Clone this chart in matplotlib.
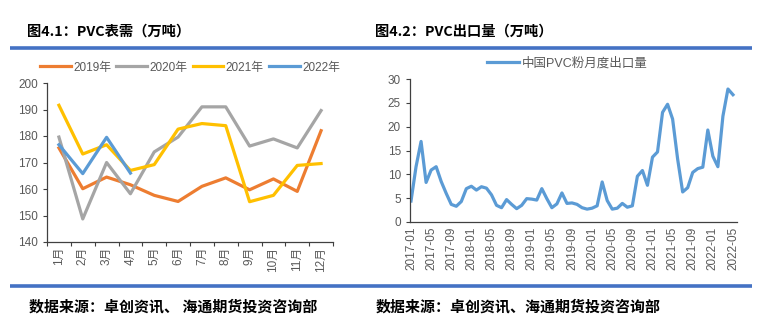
import matplotlib.pyplot as plt
from matplotlib.lines import Line2D

plt.rcParams['font.family'] = ['Liberation Sans', 'Noto Sans CJK SC']

months = ["1月", "2月", "3月", "4月", "5月", "6月", "7月", "8月", "9月", "10月", "11月", "12月"]
demand_2019 = [175.5, 160.1, 164.5, 161.6, 157.6, 155.3, 161.0, 164.2, 159.7, 163.8, 159.1, 182.0]
demand_2020 = [179.6, 148.7, 170.0, 158.2, 174.0, 179.6, 191.0, 191.0, 176.2, 178.9, 175.5, 189.6]
demand_2021 = [191.6, 173.2, 176.7, 167.0, 169.2, 182.6, 184.7, 183.9, 155.2, 157.6, 168.9, 169.6]
demand_2022 = [176.7, 165.8, 179.5, 166.0]

export_start_year = 2017
export = [4.4, 11.6, 16.9, 8.3, 10.9, 11.6, 8.5, 6.0, 3.7, 3.3, 4.3, 7.0,
          7.5, 6.7, 7.4, 7.1, 5.7, 3.5, 3.0, 4.7, 3.7, 2.8, 3.5, 4.9,
          4.8, 4.6, 7.0, 4.9, 3.0, 3.8, 6.1, 3.9, 4.0, 3.7, 3.0, 2.7,
          2.9, 3.4, 8.4, 4.5, 2.7, 2.9, 3.9, 3.1, 3.4, 9.6, 10.8, 7.7,
          13.6, 14.7, 23.0, 24.7, 21.6, 13.2, 6.3, 7.2, 10.4, 11.2, 11.5, 19.3,
          13.8, 11.6, 22.2, 27.9, 26.7]
export_labels = [f"{export_start_year + i // 12}-{i % 12 + 1:02d}" for i in range(len(export))]

colors = {"2019年": "#ED7D31", "2020年": "#A5A5A5", "2021年": "#FFC000", "2022年": "#5B9BD5"}
text_gray = "#595959"
spine_color = "#404040"
rule_color = "#4472C4"
cjk = ['Noto Sans CJK SC', 'DejaVu Sans']

fig = plt.figure(figsize=(7.59, 3.26), dpi=100)

# header / footer rules and captions
for y in (1 - 48 / 326, 1 - 286 / 326):
    fig.add_artist(Line2D([10 / 759, 752 / 759], [y, y], transform=fig.transFigure,
                          color=rule_color, linewidth=2.6, solid_capstyle="butt"))
fig.text(27 / 759, 1 - 32 / 326, "图4.1：PVC表需（万吨）", fontsize=10.3, fontweight="bold",
         family=cjk, va="center")
fig.text(375 / 759, 1 - 32 / 326, "图4.2：PVC出口量（万吨）", fontsize=10.3, fontweight="bold",
         family=cjk, va="center")
fig.text(29 / 759, 1 - 306 / 326, "数据来源：卓创资讯、 海通期货投资咨询部", fontsize=10.8,
         fontweight="bold", family=cjk, va="center")
fig.text(376 / 759, 1 - 306 / 326, "数据来源：卓创资讯、海通期货投资咨询部", fontsize=10.8,
         fontweight="bold", family=cjk, va="center")


def style_axes(ax):
    for side in ("top", "right"):
        ax.spines[side].set_visible(False)
    for side in ("left", "bottom"):
        ax.spines[side].set_color(spine_color)
        ax.spines[side].set_linewidth(0.9)
    ax.tick_params(axis="both", which="both", colors=spine_color, labelcolor=text_gray,
                   labelsize=8.5, length=3, width=0.8)
    ax.tick_params(axis="x", which="major", length=0)


# left: apparent demand
ax1 = fig.add_axes([47 / 759, 1 - 242 / 326, 286 / 759, 159 / 326])
x = list(range(len(months)))
for label, vals in (("2019年", demand_2019), ("2020年", demand_2020),
                    ("2021年", demand_2021), ("2022年", demand_2022)):
    ax1.plot(x[:len(vals)], vals, color=colors[label], linewidth=2.3, label=label)
ax1.set_xlim(-0.5, len(months) - 0.5)
ax1.set_ylim(140, 200)
ax1.set_yticks(range(140, 201, 10))
ax1.set_xticks(x)
ax1.set_xticklabels(months, rotation=90)
ax1.set_xticks([i - 0.5 for i in range(len(months) + 1)], minor=True)
style_axes(ax1)
ax1.legend(loc="lower center", bbox_to_anchor=(0.5, 1.03), ncol=4, frameon=False, fontsize=8.5,
           labelcolor=text_gray, handlelength=2.6, columnspacing=0.45, handletextpad=0.2,
           borderaxespad=0.0)

# right: monthly export
ax2 = fig.add_axes([410 / 759, 1 - 222 / 326, 327 / 759, 143 / 326])
xe = list(range(len(export)))
ax2.plot(xe, export, color="#5B9BD5", linewidth=2.3, label="中国PVC粉月度出口量")
ax2.set_xlim(-0.2, len(export) - 0.2)
ax2.set_ylim(0, 30)
ax2.set_yticks(range(0, 31, 5))
ax2.set_xticks(xe[::4])
ax2.set_xticklabels(export_labels[::4], rotation=90)
ax2.set_xticks(xe[::4], minor=True)
style_axes(ax2)
ax2.legend(loc="lower center", bbox_to_anchor=(0.48, 1.03), frameon=False, fontsize=9,
           labelcolor=text_gray, handlelength=2.6, handletextpad=0.2, borderaxespad=0.0)

fig.savefig("out.png", dpi=100)
